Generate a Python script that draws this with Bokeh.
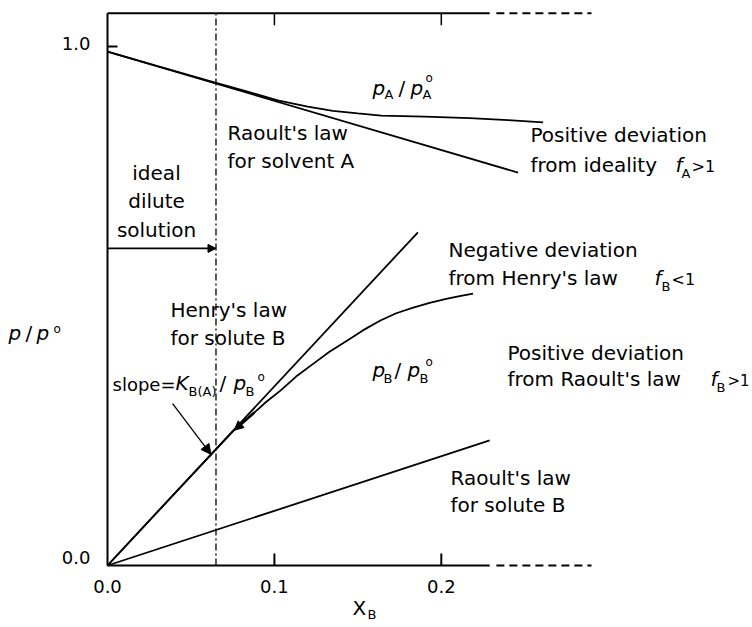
from bokeh.plotting import figure
from bokeh.models import Arrow, NormalHead, Range1d
from bokeh.core.properties import value
from bokeh.embed import file_html
from bokeh.resources import INLINE
import numpy as np

# ---- data (mole fraction of solute B vs relative vapour pressure) ----
x_raoult_a = [0.0, 0.246]            # Raoult's law for solvent A
y_raoult_a = [0.99, 0.757]

x_pa = [0.0, 0.03, 0.064, 0.085, 0.102, 0.12, 0.135, 0.15, 0.164, 0.19, 0.217, 0.24, 0.261]
y_pa = [0.99, 0.962, 0.931, 0.912, 0.896, 0.884, 0.876, 0.871, 0.867, 0.865, 0.862, 0.858, 0.854]

x_henry = [0.0, 0.186]               # Henry's law for solute B
y_henry = [0.0, 0.642]

x_pb = [0.0, 0.04, 0.075, 0.0874, 0.095, 0.1036, 0.113, 0.1234, 0.133, 0.1437,
        0.153, 0.1635, 0.173, 0.1832, 0.193, 0.2036, 0.211, 0.219]
y_pb = [0.0, 0.138, 0.258, 0.293, 0.315, 0.337, 0.364, 0.389, 0.412, 0.4335,
        0.453, 0.472, 0.486, 0.497, 0.506, 0.514, 0.519, 0.524]

x_raoult_b = [0.0, 0.229]            # Raoult's law for solute B
y_raoult_b = [0.0, 0.241]

dilute_limit = 0.065                 # edge of the ideal dilute region
x_ticks = [0.0, 0.1, 0.2]
x_tick_labels = ["0.0", "0.1", "0.2"]
x_top_ticks = [0.1, 0.2]
y_ticks = [0.0, 1.0]
y_tick_labels = ["0.0", "1.0"]
y_top = 1.064
x_solid_end = 0.229
x_end = 0.29

# ---- geometry: pixel position of the origin and pixels per unit ----
W, H = 752, 627
X0, Y0 = 107.0, 565.0
SX, SY = 1669.0, 519.0

FONT = "DejaVu Sans"

p = figure(width=W, height=H,
           x_range=Range1d(-X0 / SX, (W - X0) / SX),
           y_range=Range1d((Y0 - H) / SY, Y0 / SY),
           x_axis_location=None, y_axis_location=None,
           output_backend="svg", toolbar_location=None)
p.min_border = 0
p.min_border_left = 0
p.min_border_right = 0
p.min_border_top = 0
p.min_border_bottom = 0
p.xgrid.visible = False
p.ygrid.visible = False
p.outline_line_color = None
p.background_fill_color = "white"
p.border_fill_color = "white"

BLACK = "black"
LW = 1.8

# ---- axes frame ----
p.line([0.0, 0.0], [0.0, y_top], line_color=BLACK, line_width=2)
for yy in (0.0, y_top):
    p.line([0.0, x_solid_end], [yy, yy], line_color=BLACK, line_width=2)
    p.line([x_solid_end + 0.004, x_end], [yy, yy], line_color=BLACK,
           line_width=2, line_dash="8 5")

tick_x = 12 / SY          # inward tick length, in y units
tick_y = 10 / SX          # inward tick length, in x units
p.segment(x0=x_ticks[1:], y0=[0.0] * 2, x1=x_ticks[1:], y1=[tick_x] * 2,
          line_color=BLACK, line_width=2)
p.segment(x0=x_top_ticks, y0=[y_top] * 2, x1=x_top_ticks, y1=[y_top - tick_x] * 2,
          line_color=BLACK, line_width=1.5)
p.segment(x0=[0.0], y0=[y_ticks[1]], x1=[tick_y], y1=[y_ticks[1]],
          line_color=BLACK, line_width=2)

p.text(x=x_ticks, y=[0.0] * 3, text=x_tick_labels, text_font=value(FONT),
       text_font_size="18px", text_align="center", text_baseline="top",
       y_offset=14, text_color=BLACK)
p.text(x=[0.0] * 2, y=y_ticks, text=y_tick_labels, text_font=value(FONT),
       text_font_size="18px", text_align="right", text_baseline="alphabetic",
       x_offset=-17, y_offset=[-8, -3], text_color=BLACK)

# ideal dilute boundary
p.line([dilute_limit, dilute_limit], [0.0, y_top], line_color=BLACK,
       line_width=1.3, line_dash="7 3 2 3")

# ---- curves ----
p.line(x_raoult_a, y_raoult_a, line_color=BLACK, line_width=LW)
p.line(x_pa, y_pa, line_color=BLACK, line_width=LW)
p.line(x_henry, y_henry, line_color=BLACK, line_width=LW)
p.line(x_pb, y_pb, line_color=BLACK, line_width=LW)
p.line(x_raoult_b, y_raoult_b, line_color=BLACK, line_width=LW)

# ---- arrows ----
y_dilute_arrow = 0.611
p.add_layout(Arrow(x_start=0.0, y_start=y_dilute_arrow, x_end=dilute_limit,
                   y_end=y_dilute_arrow, line_width=1.8,
                   end=NormalHead(size=8, fill_color=BLACK, line_color=BLACK)))
x_tip = 0.062
p.add_layout(Arrow(x_start=0.039, y_start=0.312, x_end=x_tip,
                   y_end=float(np.interp(x_tip, x_henry, y_henry)), line_width=1.3,
                   end=NormalHead(size=10, fill_color=BLACK, line_color=BLACK)))
x_a0, x_a1 = 0.088, 0.076
p.add_layout(Arrow(x_start=x_a0, y_start=float(np.interp(x_a0, x_pb, y_pb)),
                   x_end=x_a1, y_end=float(np.interp(x_a1, x_pb, y_pb)), line_width=2.5,
                   end=NormalHead(size=9, fill_color=BLACK, line_color=BLACK)))


def label(text, px, py, size=20, style="normal", align="left"):
    """Place a run of text whose baseline sits at canvas position (px, py)."""
    yc = py - 0.36 * size   # the run is drawn centred on its cap height
    p.text(x=[(px - X0) / SX], y=[(Y0 - yc) / SY], text=[text],
           text_font=value(FONT), text_font_size=f"{size}px", text_font_style=style,
           text_align=align, text_baseline="alphabetic", text_color=BLACK)


SUB, SUP = 13, 12

# axis titles
label("p", 8, 340, style="italic")
label("/", 25, 340)
label("p", 36, 340, style="italic")
label("o", 53, 333, size=SUP)
label("X", 352, 615)
label("B", 367, 619, size=SUB)

# Raoult's law for solvent A
label("Raoult's law", 227, 140)
label("for solvent A", 227, 168)

# p_A / p_A°
label("p", 372, 95, style="italic")
label("A", 384, 99, size=SUB)
label("/", 398, 95)
label("p", 410, 95, style="italic")
label("A", 422, 99, size=SUB)
label("o", 425, 82, size=SUP)

label("Positive deviation", 530, 142)
label("from ideality", 530, 172)
label("f", 675, 172, style="italic")
label("A", 681, 178, size=SUB)
label(">1", 691, 172, size=16)

label("ideal", 156, 180, align="center")
label("dilute", 156, 208, align="center")
label("solution", 156, 237, align="center")

label("Negative deviation", 448, 257)
label("from Henry's law", 448, 285)
label("f", 654, 285, style="italic")
label("B", 661, 291, size=SUB)
label("<1", 671, 285, size=16)

label("Henry's law", 170, 317)
label("for solute B", 170, 345)

label("slope=", 112, 390, size=18)
label("K", 175, 390, style="italic")
label("B(A)", 188, 396, size=SUB)
label("/", 219, 390)
label("p", 233, 390, style="italic")
label("B", 245, 396, size=SUB)
label("o", 257, 381, size=SUP)

# p_B / p_B°
label("p", 372, 377, style="italic")
label("B", 383, 383, size=SUB)
label("/", 394, 377)
label("p", 407, 377, style="italic")
label("B", 419, 383, size=SUB)
label("o", 425, 366, size=SUP)

label("Positive deviation", 507, 360)
label("from Raoult's law", 507, 386)
label("f", 710, 386, style="italic")
label("B", 716, 392, size=SUB)
label(">1", 727, 386, size=15)

label("Raoult's law", 450, 485)
label("for solute B", 450, 512)

open("out.html", "w").write(file_html(p, INLINE))
